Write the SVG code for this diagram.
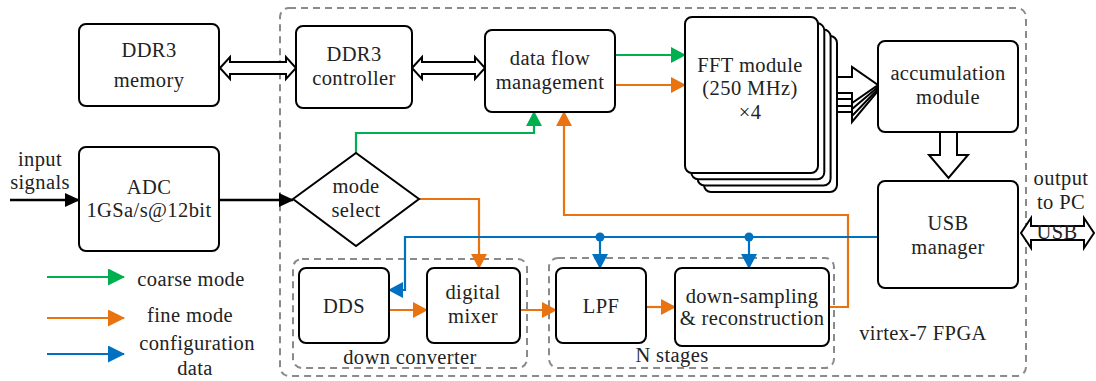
<svg xmlns="http://www.w3.org/2000/svg" width="1096" height="381" viewBox="0 0 1096 381">
<style>
.box{fill:#fff;stroke:#000;stroke-width:2}
.hol{fill:#fff;stroke:#000;stroke-width:2;stroke-linejoin:miter}
.dash{fill:none;stroke:#8a8a8a;stroke-width:2;stroke-dasharray:7 5}
.t{font-family:"Liberation Serif","Times New Roman",serif;font-size:20.5px;fill:#222;text-anchor:middle;letter-spacing:0.4px}
.g{fill:none;stroke:#00b050;stroke-width:2.2}
.o{fill:none;stroke:#e97311;stroke-width:2.2}
.b{fill:none;stroke:#0070c0;stroke-width:2.2}
.k{fill:none;stroke:#000;stroke-width:2.4}
</style>
<defs>
<marker id="mk" markerUnits="userSpaceOnUse" markerWidth="15" markerHeight="14" refX="14" refY="7" orient="auto"><path d="M0,0 L15,7 L0,14 z" fill="#000"/></marker>
<marker id="mg" markerUnits="userSpaceOnUse" markerWidth="15" markerHeight="16" refX="14" refY="8" orient="auto"><path d="M0,0 L15,8 L0,16 z" fill="#00b050"/></marker>
<marker id="mo" markerUnits="userSpaceOnUse" markerWidth="15" markerHeight="16" refX="14" refY="8" orient="auto"><path d="M0,0 L15,8 L0,16 z" fill="#e97311"/></marker>
<marker id="mb" markerUnits="userSpaceOnUse" markerWidth="15" markerHeight="16" refX="14" refY="8" orient="auto"><path d="M0,0 L15,8 L0,16 z" fill="#0070c0"/></marker>
<marker id="lg" markerUnits="userSpaceOnUse" markerWidth="17" markerHeight="17" refX="16" refY="8.5" orient="auto"><path d="M0,0 L17,8.5 L0,17 z" fill="#00b050"/></marker>
<marker id="lo" markerUnits="userSpaceOnUse" markerWidth="17" markerHeight="17" refX="16" refY="8.5" orient="auto"><path d="M0,0 L17,8.5 L0,17 z" fill="#e97311"/></marker>
<marker id="lb" markerUnits="userSpaceOnUse" markerWidth="17" markerHeight="17" refX="16" refY="8.5" orient="auto"><path d="M0,0 L17,8.5 L0,17 z" fill="#0070c0"/></marker>
</defs>

<g id="fpga">
<rect class="dash" x="280" y="8" width="746" height="368" rx="9"/>
<text class="t" x="923" y="340">virtex-7 FPGA</text>
</g>
<g id="down-converter">
<rect class="dash" x="293" y="259" width="234" height="109" rx="9"/>
<text class="t" x="410" y="364">down converter</text>
</g>
<g id="n-stages">
<rect class="dash" x="549" y="258" width="285" height="110" rx="9"/>
<text class="t" x="672" y="362">N stages</text>
</g>

<g id="connectors">
<line class="k" x1="10" y1="200" x2="79" y2="200" marker-end="url(#mk)"/>
<line class="k" x1="220" y1="200" x2="293" y2="200" marker-end="url(#mk)"/>
<polygon class="hol" points="220,68 230,57 230,62 286,62 286,57 296,68 286,79 286,74 230,74 230,79"/>
<polygon class="hol" points="412,68 422,57 422,62 475,62 475,57 485,68 475,79 475,74 422,74 422,79"/>
<line class="g" x1="615" y1="55" x2="685" y2="55" marker-end="url(#mg)"/>
<line class="o" x1="615" y1="85" x2="685" y2="85" marker-end="url(#mo)"/>
<polyline class="g" points="356,153 356,133 534,133 534,112" marker-end="url(#mg)"/>
<polyline class="o" points="419,199 479,199 479,268" marker-end="url(#mo)"/>
<polyline class="o" points="829,307 848,307 848,215 564,215 564,112" marker-end="url(#mo)"/>
<polyline class="b" points="878,237 405,237 405,290 389,290" marker-end="url(#mb)"/>
<line class="b" x1="600" y1="237" x2="600" y2="268" marker-end="url(#mb)"/>
<line class="b" x1="749" y1="237" x2="749" y2="268" marker-end="url(#mb)"/>
<circle cx="600" cy="237" r="4.5" fill="#0070c0"/>
<circle cx="749" cy="237" r="4.5" fill="#0070c0"/>
<line class="o" x1="389" y1="310" x2="427" y2="310" marker-end="url(#mo)"/>
<line class="o" x1="520" y1="310" x2="556" y2="310" marker-end="url(#mo)"/>
<line class="o" x1="646" y1="307" x2="675" y2="307" marker-end="url(#mo)"/>
<polygon class="hol" points="837,96 852,96 852,86 878,91 852,122 852,112 837,112"/>
<polygon class="hol" points="831,90 852,90 852,80 878,89 852,116 852,106 831,106"/>
<polygon class="hol" points="824,83 852,83 852,73 878,87 852,109 852,99 824,99"/>
<polygon class="hol" points="818,77 852,77 852,67 878,85 852,103 852,93 818,93"/>
<polygon class="hol" points="940,132 957,132 957,155 968,155 948.5,178 929,155 940,155"/>
<polygon class="hol" points="1021,233 1031,218 1031,226 1084,226 1084,218 1094,233 1084,248 1084,240 1031,240 1031,248"/>
</g>

<g id="ddr3-memory">
<rect class="box" x="79" y="24" width="140" height="82" rx="7"/>
<text class="t" x="149" y="57">DDR3</text>
<text class="t" x="149" y="87">memory</text>
</g>
<g id="ddr3-controller">
<rect class="box" x="296" y="26" width="116" height="82" rx="7"/>
<text class="t" x="354" y="61">DDR3</text>
<text class="t" x="354" y="85">controller</text>
</g>
<g id="data-flow">
<rect class="box" x="485" y="30" width="130" height="82" rx="7"/>
<text class="t" x="550" y="65">data flow</text>
<text class="t" x="550" y="89">management</text>
</g>
<g id="fft">
<rect class="box" x="704" y="36" width="133" height="156" rx="7"/>
<rect class="box" x="697.6" y="29.6" width="133" height="156" rx="7"/>
<rect class="box" x="691.3" y="23.3" width="133" height="156" rx="7"/>
<rect class="box" x="685" y="17" width="133" height="156" rx="7"/>
<text class="t" x="750" y="72">FFT module</text>
<text class="t" x="750" y="95">(250 MHz)</text>
<text class="t" x="750" y="119">×4</text>
</g>
<g id="accumulation">
<rect class="box" x="878" y="41" width="140" height="91" rx="7"/>
<text class="t" x="948" y="80">accumulation</text>
<text class="t" x="948" y="104">module</text>
</g>
<g id="adc">
<rect class="box" x="79" y="147" width="140" height="104" rx="7"/>
<text class="t" x="149" y="194">ADC</text>
<text class="t" x="149" y="217">1GSa/s@12bit</text>
</g>
<g id="input">
<text class="t" x="40" y="166">input</text>
<text class="t" x="40" y="189">signals</text>
</g>
<g id="mode-select">
<polygon class="box" points="293,199 356,153 419,199 356,246"/>
<text class="t" x="356" y="193">mode</text>
<text class="t" x="356" y="217">select</text>
</g>
<g id="usb-manager">
<rect class="box" x="878" y="181" width="140" height="107" rx="7"/>
<text class="t" x="948" y="230">USB</text>
<text class="t" x="948" y="254">manager</text>
</g>
<g id="output">
<text class="t" x="1061" y="185">output</text>
<text class="t" x="1061" y="209">to PC</text>
<text class="t" x="1057" y="239">USB</text>
</g>
<g id="dds">
<rect class="box" x="299" y="268" width="90" height="75" rx="7"/>
<text class="t" x="344" y="313">DDS</text>
</g>
<g id="digital-mixer">
<rect class="box" x="427" y="268" width="93" height="75" rx="7"/>
<text class="t" x="473" y="299">digital</text>
<text class="t" x="473" y="323">mixer</text>
</g>
<g id="lpf">
<rect class="box" x="556" y="268" width="90" height="75" rx="7"/>
<text class="t" x="601" y="313">LPF</text>
</g>
<g id="down-sampling">
<rect class="box" x="675" y="268" width="154" height="78" rx="7"/>
<text class="t" x="752" y="303">down-sampling</text>
<text class="t" x="752" y="325">&amp; reconstruction</text>
</g>

<g id="legend">
<line class="g" x1="47" y1="277" x2="124" y2="277" marker-end="url(#lg)"/>
<line class="o" x1="47" y1="318" x2="124" y2="318" marker-end="url(#lo)"/>
<line class="b" x1="47" y1="354" x2="124" y2="354" marker-end="url(#lb)"/>
<text class="t" x="191" y="286">coarse mode</text>
<text class="t" x="190" y="322">fine mode</text>
<text class="t" x="197" y="350">configuration</text>
<text class="t" x="195" y="375">data</text>
</g>
</svg>
